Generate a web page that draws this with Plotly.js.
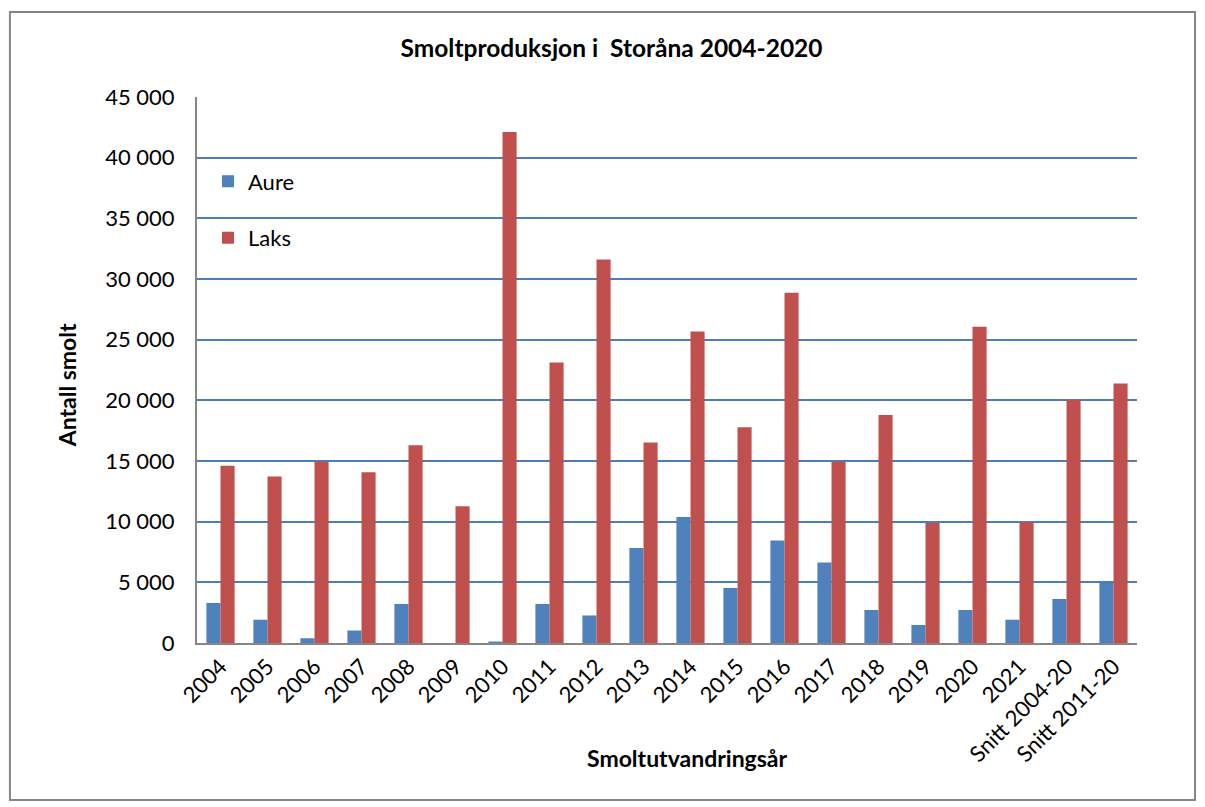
<!DOCTYPE html>
<html>
<head>
<meta charset="utf-8">
<script src="https://cdn.plot.ly/plotly-3.0.1.min.js"></script>
<style>
  html, body { margin: 0; padding: 0; background: #fff; }
  #chart { width: 1205px; height: 807px; }
</style>
</head>
<body>
<div id="chart"></div>
<script>
const categories = ["2004","2005","2006","2007","2008","2009","2010","2011","2012","2013",
  "2014","2015","2016","2017","2018","2019","2020","2021","Snitt 2004-20","Snitt 2011-20"];
const aure = [3300, 1920, 390, 1030, 3220, 0, 120, 3220, 2270, 7820,
  10390, 4540, 8440, 6640, 2720, 1480, 2720, 1920, 3630, 4950];
const laks = [14610, 13720, 14960, 14080, 16290, 11270, 42110, 23110, 31600, 16530,
  25670, 17790, 28860, 14960, 18800, 9890, 26060, 9970, 20040, 21390];
const yTicks = [0, 5000, 10000, 15000, 20000, 25000, 30000, 35000, 40000, 45000];

const FONT = "Lato, 'Open Sans', sans-serif";

const traces = [
  { type: "bar", name: "Aure", x: categories, y: aure, legendgroup: "a",
    marker: { color: "#4f81bd", line: { color: "#4f81bd", width: 0 } } },
  { type: "bar", name: "Laks", x: categories, y: laks, legendgroup: "b",
    marker: { color: "#c0504d", line: { color: "#c0504d", width: 0 } } }
];

const layout = {
  width: 1205, height: 807,
  margin: { l: 197, r: 68, t: 97, b: 164 },
  paper_bgcolor: "#fff", plot_bgcolor: "#fff",
  font: { family: FONT, size: 22, color: "#000" },
  separators: ", ",
  barmode: "group", bargap: 0.4, bargroupgap: 0,
  title: { text: "<b>Smoltproduksjon i  Storåna 2004-2020</b>",
    x: 0.441, xref: "paper", xanchor: "center", y: 1.058, yref: "paper", yanchor: "middle",
    font: { family: FONT, size: 24.5, color: "#000" } },
  xaxis: { type: "category", tickangle: -45, showgrid: false, showline: true,
    linecolor: "#868686", linewidth: 2, ticks: "", tickfont: { size: 22 }, fixedrange: true },
  yaxis: { range: [0, 45000], tickvals: yTicks, tickformat: ",d", showgrid: true,
    gridcolor: "#4a7ebb", gridwidth: 2, showline: true, linecolor: "#868686", linewidth: 2,
    zeroline: false, ticks: "", ticklabelstandoff: 16, tickfont: { size: 22 }, fixedrange: true },
  legend: { x: 0.0117, y: 0.884, xanchor: "left", yanchor: "top", bgcolor: "rgba(0,0,0,0)",
    tracegroupgap: 25, font: { size: 22 }, itemwidth: 30 },
  annotations: [
    { text: "<b>Antall smolt</b>", xref: "paper", yref: "paper", x: -0.138, y: 0.4725,
      textangle: -90, showarrow: false, font: { size: 23 }, xanchor: "center", yanchor: "middle" },
    { text: "<b>Smoltutvandringsår</b>", xref: "paper", yref: "paper", x: 0.522, y: -0.2106,
      showarrow: false, font: { size: 23 }, xanchor: "center", yanchor: "middle" }
  ],
  shapes: [
    { type: "rect", xref: "paper", yref: "paper", x0: -0.199, x1: 1.0617, y0: -0.2875, y1: 1.1557,
      line: { color: "#868686", width: 2 }, fillcolor: "rgba(0,0,0,0)", layer: "below" }
  ]
};

Plotly.newPlot("chart", traces, layout, { displayModeBar: false, staticPlot: true });
</script>
</body>
</html>
